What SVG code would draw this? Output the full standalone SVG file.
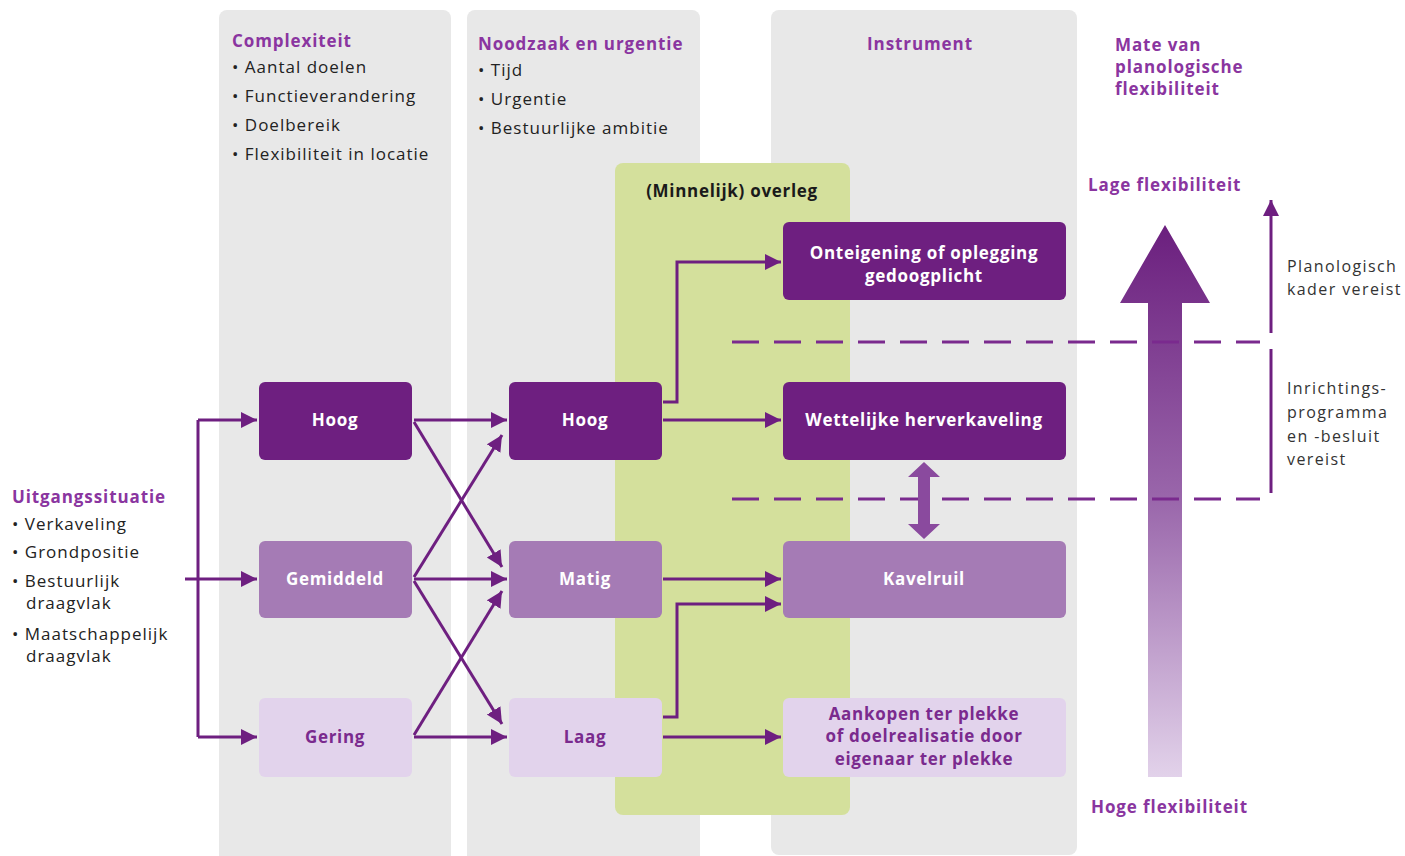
<svg xmlns="http://www.w3.org/2000/svg" width="1405" height="856" viewBox="0 0 1405 856">
<defs>
<marker id="ah" markerUnits="userSpaceOnUse" markerWidth="18" markerHeight="18" refX="16" refY="8" orient="auto"><path d="M0,0 L16,8 L0,16 z" fill="#6e1f80"/></marker>
<linearGradient id="grad" x1="0" y1="0" x2="0" y2="1"><stop offset="0" stop-color="#6b1f7e"/><stop offset="0.5" stop-color="#9a67ab"/><stop offset="1" stop-color="#e2d2ea"/></linearGradient>
<style>
text{font-family:"Open Sans","Liberation Sans",sans-serif;}
.panel{fill:#e8e8e8;}
.hd{font-weight:700;font-size:17px;fill:#8a35a0;letter-spacing:0.9px;}
.bl{font-size:17px;fill:#222;font-weight:500;letter-spacing:1px;}
.dark{fill:#6e1f80;}
.mid{fill:#a57bb5;}
.light{fill:#e2d3ec;}
.wt{font-weight:700;font-size:17px;fill:#fff;text-anchor:middle;letter-spacing:0.7px;}
.pt{font-weight:700;font-size:17px;fill:#7a2a8e;text-anchor:middle;letter-spacing:0.7px;}
.con{stroke:#6e1f80;stroke-width:3;fill:none;}
.arr{marker-end:url(#ah);}
.dash{stroke:#7a2a8e;stroke-width:3;stroke-dasharray:27 15;fill:none;}
.side{font-size:16px;fill:#333;letter-spacing:1.4px;}
</style>
</defs>
<rect width="1405" height="856" fill="#fff"/>
<g id="panels">
<rect class="panel" x="219" y="10" width="232" height="860" rx="8"/>
<rect class="panel" x="467" y="10" width="233" height="860" rx="8"/>
<rect class="panel" x="771" y="10" width="306" height="845" rx="8"/>
<rect x="615" y="163" width="235" height="652" rx="8" fill="#d4e09c"/>
</g>
<g id="headers">
<text class="hd" x="232" y="47">Complexiteit</text>
<text class="bl" x="232" y="73">• Aantal doelen</text>
<text class="bl" x="232" y="102">• Functieverandering</text>
<text class="bl" x="232" y="131">• Doelbereik</text>
<text class="bl" x="232" y="160">• Flexibiliteit in locatie</text>
<text class="hd" x="478" y="50">Noodzaak en urgentie</text>
<text class="bl" x="478" y="76">• Tijd</text>
<text class="bl" x="478" y="105">• Urgentie</text>
<text class="bl" x="478" y="134">• Bestuurlijke ambitie</text>
<text class="hd" x="920" y="50" text-anchor="middle">Instrument</text>
<text class="hd" x="1115" y="51">Mate van</text>
<text class="hd" x="1115" y="73">planologische</text>
<text class="hd" x="1115" y="95">flexibiliteit</text>
<text x="732" y="197" text-anchor="middle" font-weight="700" font-size="17" letter-spacing="0.7" fill="#1a1a1a">(Minnelijk) overleg</text>
<text class="hd" x="1088" y="191">Lage flexibiliteit</text>
<text class="hd" x="1091" y="813">Hoge flexibiliteit</text>
<text class="side" x="1287" y="272">Planologisch</text>
<text class="side" x="1287" y="295">kader vereist</text>
<text class="side" x="1287" y="394">Inrichtings-</text>
<text class="side" x="1287" y="418">programma</text>
<text class="side" x="1287" y="442">en -besluit</text>
<text class="side" x="1287" y="465">vereist</text>
</g>
<g id="uitgangssituatie">
<text class="hd" x="12" y="503">Uitgangssituatie</text>
<text class="bl" x="12" y="530">• Verkaveling</text>
<text class="bl" x="12" y="558">• Grondpositie</text>
<text class="bl" x="12" y="587">• Bestuurlijk</text>
<text class="bl" x="26" y="609">draagvlak</text>
<text class="bl" x="12" y="640">• Maatschappelijk</text>
<text class="bl" x="26" y="662">draagvlak</text>
</g>
<g id="flex-scale">
<path d="M1148,303 L1120,303 L1165,225 L1210,303 L1182,303 L1182,777 L1148,777 Z" fill="url(#grad)"/>
<line class="con" x1="1271" y1="333" x2="1271" y2="200" marker-end="url(#ah)"/>
<line class="con" x1="1271" y1="349" x2="1271" y2="493"/>
<line class="dash" x1="732" y1="342" x2="1260" y2="342"/>
<line class="dash" x1="732" y1="499" x2="1260" y2="499"/>
</g>
<g id="connectors">
<polyline class="con" points="198,420 198,737"/>
<line class="con arr" x1="198" y1="420" x2="257" y2="420"/>
<line class="con arr" x1="185" y1="579" x2="257" y2="579"/>
<line class="con arr" x1="198" y1="737" x2="257" y2="737"/>
<line class="con arr" x1="414" y1="420" x2="507" y2="420"/>
<line class="con arr" x1="414" y1="422" x2="502" y2="567"/>
<line class="con arr" x1="414" y1="577" x2="502" y2="435"/>
<line class="con arr" x1="414" y1="579" x2="507" y2="579"/>
<line class="con arr" x1="414" y1="581" x2="502" y2="724"/>
<line class="con arr" x1="414" y1="735" x2="502" y2="591"/>
<line class="con arr" x1="414" y1="737" x2="507" y2="737"/>
<polyline class="con arr" points="663,402 677,402 677,262 781,262"/>
<line class="con arr" x1="663" y1="420" x2="781" y2="420"/>
<line class="con arr" x1="663" y1="579" x2="781" y2="579"/>
<polyline class="con arr" points="663,717 677,717 677,604 781,604"/>
<line class="con arr" x1="663" y1="737" x2="781" y2="737"/>
<path d="M924,462 L940,477 L930,477 L930,524 L940,524 L924,539 L908,524 L918,524 L918,477 L908,477 Z" fill="#8a4a9e"/>
</g>
<g id="n-hoog1"><rect class="dark" x="259" y="382" width="153" height="78" rx="6"/><text class="wt" x="335" y="426">Hoog</text></g>
<g id="n-gemiddeld1"><rect class="mid" x="259" y="541" width="153" height="77" rx="6"/><text class="wt" x="335" y="585">Gemiddeld</text></g>
<g id="n-gering1"><rect class="light" x="259" y="698" width="153" height="79" rx="6"/><text class="pt" x="335" y="743">Gering</text></g>
<g id="n-hoog2"><rect class="dark" x="509" y="382" width="153" height="78" rx="6"/><text class="wt" x="585" y="426">Hoog</text></g>
<g id="n-matig2"><rect class="mid" x="509" y="541" width="153" height="77" rx="6"/><text class="wt" x="585" y="585">Matig</text></g>
<g id="n-laag2"><rect class="light" x="509" y="698" width="153" height="79" rx="6"/><text class="pt" x="585" y="743">Laag</text></g>
<g id="n-onteigening"><rect class="dark" x="783" y="222" width="283" height="78" rx="6"/><text class="wt" x="924" y="259">Onteigening of oplegging</text><text class="wt" x="924" y="282">gedoogplicht</text></g>
<g id="n-wettelijke"><rect class="dark" x="783" y="382" width="283" height="78" rx="6"/><text class="wt" x="924" y="426">Wettelijke herverkaveling</text></g>
<g id="n-kavelruil"><rect class="mid" x="783" y="541" width="283" height="77" rx="6"/><text class="wt" x="924" y="585">Kavelruil</text></g>
<g id="n-aankopen"><rect class="light" x="783" y="698" width="283" height="79" rx="6"/><text class="pt" x="924" y="720">Aankopen ter plekke</text><text class="pt" x="924" y="742">of doelrealisatie door</text><text class="pt" x="924" y="765">eigenaar ter plekke</text></g>
</svg>
